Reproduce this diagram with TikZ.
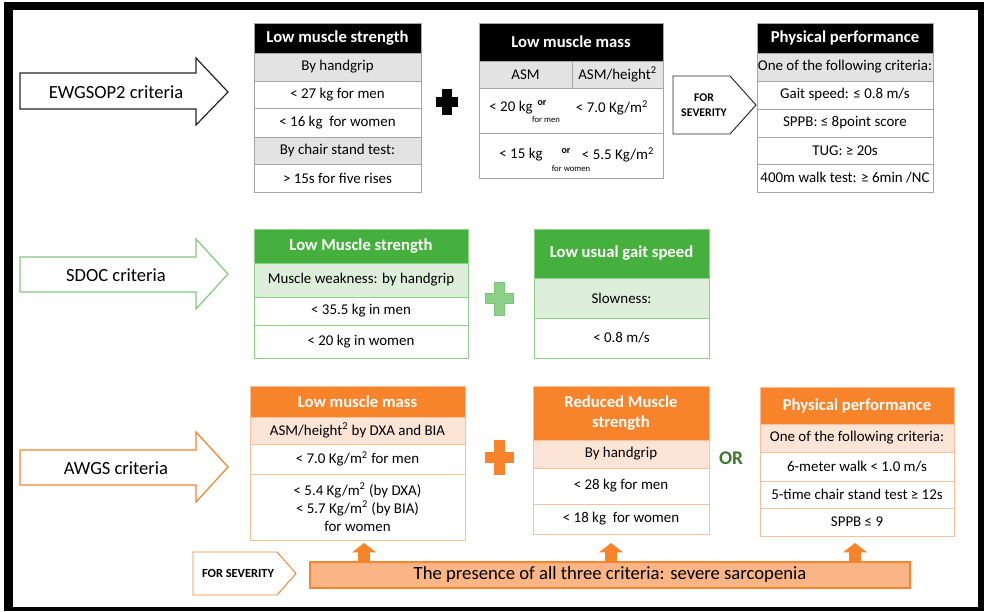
\documentclass[tikz,border=0pt]{standalone}
\usepackage{fontspec}
\setmainfont{Carlito}
\usetikzlibrary{arrows.meta}
\definecolor{rowgrey}{HTML}{E3E3E3}
\definecolor{linegrey}{HTML}{A6A6A6}
\definecolor{hdgreen}{HTML}{45B03D}
\definecolor{ltgreen}{HTML}{DDEFDA}
\definecolor{lngreen}{HTML}{8ED08A}
\definecolor{hdorange}{HTML}{F7832A}
\definecolor{ltorange}{HTML}{FCE4D6}
\definecolor{lnorange}{HTML}{F9C09A}
\definecolor{barorange}{HTML}{F9B585}
\definecolor{ordark}{HTML}{3A7A2A}
\tikzset{
	cell/.style={draw, inner sep=0pt, align=center, line width=0.6pt, font=\fontsize{11.2}{13.5}\selectfont},
	blackhead/.style={fill=black, draw=linegrey, text=white, font=\bfseries\fontsize{12.5}{15}\selectfont},
	greyrow/.style={fill=rowgrey, draw=linegrey},
	whiterow/.style={fill=white, draw=linegrey},
	greenhead/.style={fill=hdgreen, draw=lngreen, text=white, font=\bfseries\fontsize{12.5}{15}\selectfont},
	greenrow/.style={fill=ltgreen, draw=lngreen},
	greenwhite/.style={fill=white, draw=lngreen},
	orangehead/.style={fill=hdorange, draw=lnorange, text=white, font=\bfseries\fontsize{12.5}{15}\selectfont},
	orangerow/.style={fill=ltorange, draw=lnorange},
	orangewhite/.style={fill=white, draw=lnorange},
	bigarrow/.style={fill=white, line width=0.9pt, line join=miter},
	arrowlabel/.style={font=\fontsize{13.9}{16}\selectfont},
	sevlabel/.style={font=\bfseries\fontsize{8.8}{11}\selectfont, align=center},
	txt/.style={inner sep=0pt, font=\fontsize{11.2}{13.5}\selectfont},
	tinytxt/.style={inner sep=0pt, font=\fontsize{6.5}{7}\selectfont},
	uparrow/.style={draw=hdorange, line width=9pt, -{Triangle[width=17.5pt,length=7pt]}}
}
% cell: [style](name)(x1,y1)(x2,y2){text}, pixel units
\def\cell[#1](#2)(#3,#4)(#5,#6)#7{\node[cell,#1,minimum width={((#5)-(#3))*0.75}, minimum height={((#6)-(#4))*0.75}] (#2) at ({((#3)+(#5))/2},{((#4)+(#6))/2}) {#7};}
% plus sign: [style](cx,cy)(half width,half height,half arm)
\def\plusmark[#1](#2,#3)(#4,#5,#6){\draw[#1, shift={(#2,#3)}] (-#6,-#5) -- (#6,-#5) -- (#6,-#6) -- (#4,-#6) -- (#4,#6) -- (#6,#6) -- (#6,#5) -- (-#6,#5) -- (-#6,#6) -- (-#4,#6) -- (-#4,-#6) -- (-#6,-#6) -- cycle;}

\begin{document}
\begin{tikzpicture}[x=0.75pt,y=-0.75pt]
	\useasboundingbox (0,0) rectangle (984,611);
	\fill[black] (4,2) rectangle (984,611);
	\fill[white] (13,10) rectangle (978,607);
	
	%%%%% EWGSOP2 %%%%%
	\draw[bigarrow, draw=black!85] (20,73) -- (196,73) -- (196,58) -- (228,92) -- (196,125) -- (196,109) -- (20,109) -- cycle;
	\node[arrowlabel] (ewgsop) at (116,92) {EWGSOP2 criteria};
	
	\cell[blackhead](lms)(254,23)(421,53){Low muscle strength}
	\cell[greyrow](lmsA)(254,53)(421,81){By handgrip}
	\cell[whiterow](lmsB)(254,81)(421,108){< 27 kg for men}
	\cell[whiterow](lmsC)(254,108)(421,137){< 16 kg\ \ for women}
	\cell[greyrow](lmsD)(254,137)(421,164){By chair stand test:}
	\cell[whiterow](lmsE)(254,164)(421,192){> 15s for five rises}
	
	\plusmark[fill=black](446.5,101.5)(10.5,12.5,4.5)
	
	\cell[blackhead](lmm)(479,23)(663,61){Low muscle mass}
	\cell[greyrow](lmmA)(479,61)(572,88){ASM}
	\cell[greyrow](lmmB)(572,61)(663,88){ASM/height\textsuperscript{2}}
	\cell[whiterow](lmmC)(479,88)(663,133){}
	\cell[whiterow](lmmD)(479,133)(663,178){}
	\node[txt] (men20) at (511,108) {< 20 kg};
	\node[tinytxt, font=\bfseries\fontsize{7.5}{8}\selectfont] (or1) at (542,103) {or};
	\node[txt] (men70) at (612,108) {< 7.0 Kg/m\textsuperscript{2}};
	\node[tinytxt] (formen) at (546,120) {for men};
	\node[txt] (wom15) at (521,155) {< 15 kg};
	\node[tinytxt, font=\bfseries\fontsize{7.5}{8}\selectfont] (or2) at (566,151) {or};
	\node[txt] (wom55) at (618,155) {< 5.5 Kg/m\textsuperscript{2}};
	\node[tinytxt] (forwom) at (571,169) {for women};
	
	\draw[bigarrow, draw=black!85, line width=0.7pt] (673,76) -- (730,76) -- (756,105) -- (730,134) -- (673,134) -- cycle;
	\node[sevlabel] (sevtop) at (704,105) {FOR\\SEVERITY};
	
	\cell[blackhead](ppA)(757,23)(933,53){Physical performance}
	\cell[greyrow](ppB)(757,53)(933,81){One of the following criteria:}
	\cell[whiterow](ppC)(757,81)(933,109){Gait speed: ≤ 0.8 m/s}
	\cell[whiterow](ppD)(757,109)(933,137){SPPB: ≤ 8point score}
	\cell[whiterow](ppE)(757,137)(933,164){TUG: ≥ 20s}
	\cell[whiterow](ppF)(757,164)(933,192){400m walk test: ≥ 6min /NC}
	
	%%%%% SDOC %%%%%
	\draw[bigarrow, draw=lngreen!80!hdgreen] (20,257) -- (196,257) -- (196,239) -- (228,274) -- (196,309) -- (196,292) -- (20,292) -- cycle;
	\node[arrowlabel] (sdoc) at (116,275) {SDOC criteria};
	
	\cell[greenhead](gms)(254,229)(468,263){Low Muscle strength}
	\cell[greenrow](gmsA)(254,263)(468,297){Muscle weakness: by handgrip}
	\cell[greenwhite](gmsB)(254,297)(468,325){< 35.5 kg in men}
	\cell[greenwhite](gmsC)(254,325)(468,358){< 20 kg in women}
	
	\plusmark[fill=lngreen, draw=lngreen!70!hdgreen, line width=0.6pt](499,298.5)(14,16.5,5)
	
	\cell[greenhead](ggs)(534,229)(709,278){Low usual gait speed}
	\cell[greenrow](ggsA)(534,278)(709,318){Slowness:}
	\cell[greenwhite](ggsB)(534,318)(709,358){< 0.8 m/s}
	
	%%%%% AWGS %%%%%
	\draw[bigarrow, draw=hdorange] (20,450) -- (196,450) -- (196,432) -- (228,467) -- (196,502) -- (196,485) -- (20,485) -- cycle;
	\node[arrowlabel] (awgs) at (116,468) {AWGS criteria};
	
	\cell[orangehead](omm)(250,386)(465,417){Low muscle mass}
	\cell[orangerow](ommA)(250,417)(465,444){ASM/height\textsuperscript{2} by DXA and BIA}
	\cell[orangewhite](ommB)(250,444)(465,474){< 7.0 Kg/m\textsuperscript{2} for men}
	\cell[orangewhite](ommC)(250,474)(465,540){< 5.4 Kg/m\textsuperscript{2} (by DXA)\\< 5.7 Kg/m\textsuperscript{2} (by BIA)\\for women}
	
	\plusmark[fill=hdorange, draw=hdorange, line width=0.6pt](499,457)(14,17,5)
	
	\cell[orangehead](oms)(533,386)(709,440){Reduced Muscle\\strength}
	\cell[orangerow](omsA)(533,440)(709,468){By handgrip}
	\cell[orangewhite](omsB)(533,468)(709,504){< 28 kg for men}
	\cell[orangewhite](omsC)(533,504)(709,534){< 18 kg\ \ for women}
	
	\node[font=\bfseries\fontsize{14.5}{16}\selectfont, text=ordark] (orword) at (731,458) {OR};
	
	\cell[orangehead](opp)(760,387)(954,424){Physical performance}
	\cell[orangerow](oppA)(760,424)(954,452){One of the following criteria:}
	\cell[orangewhite](oppB)(760,452)(954,481){6-meter walk < 1.0 m/s}
	\cell[orangewhite](oppC)(760,481)(954,508){5-time chair stand test ≥ 12s}
	\cell[orangewhite](oppD)(760,508)(954,536){SPPB ≤ 9}
	
	\draw[bigarrow, draw=hdorange, line width=0.7pt] (193,552) -- (277,552) -- (296,573.5) -- (277,595) -- (193,595) -- cycle;
	\node[sevlabel, font=\bfseries\fontsize{9.3}{11}\selectfont] (sevbot) at (238,573.5) {FOR SEVERITY};
	
	\cell[fill=barorange, draw=hdorange, line width=0.8pt, font=\fontsize{14}{16}\selectfont](bar)(310,562)(910,588){The presence of all three criteria: severe sarcopenia}
	
	\coordinate (upA) at (364,543);
	\coordinate (upB) at (611,543);
	\coordinate (upC) at (855,543);
	\draw[uparrow] (bar.north -| upA) -- (upA);
	\draw[uparrow] (bar.north -| upB) -- (upB);
	\draw[uparrow] (bar.north -| upC) -- (upC);
	
\end{tikzpicture}
\end{document}
